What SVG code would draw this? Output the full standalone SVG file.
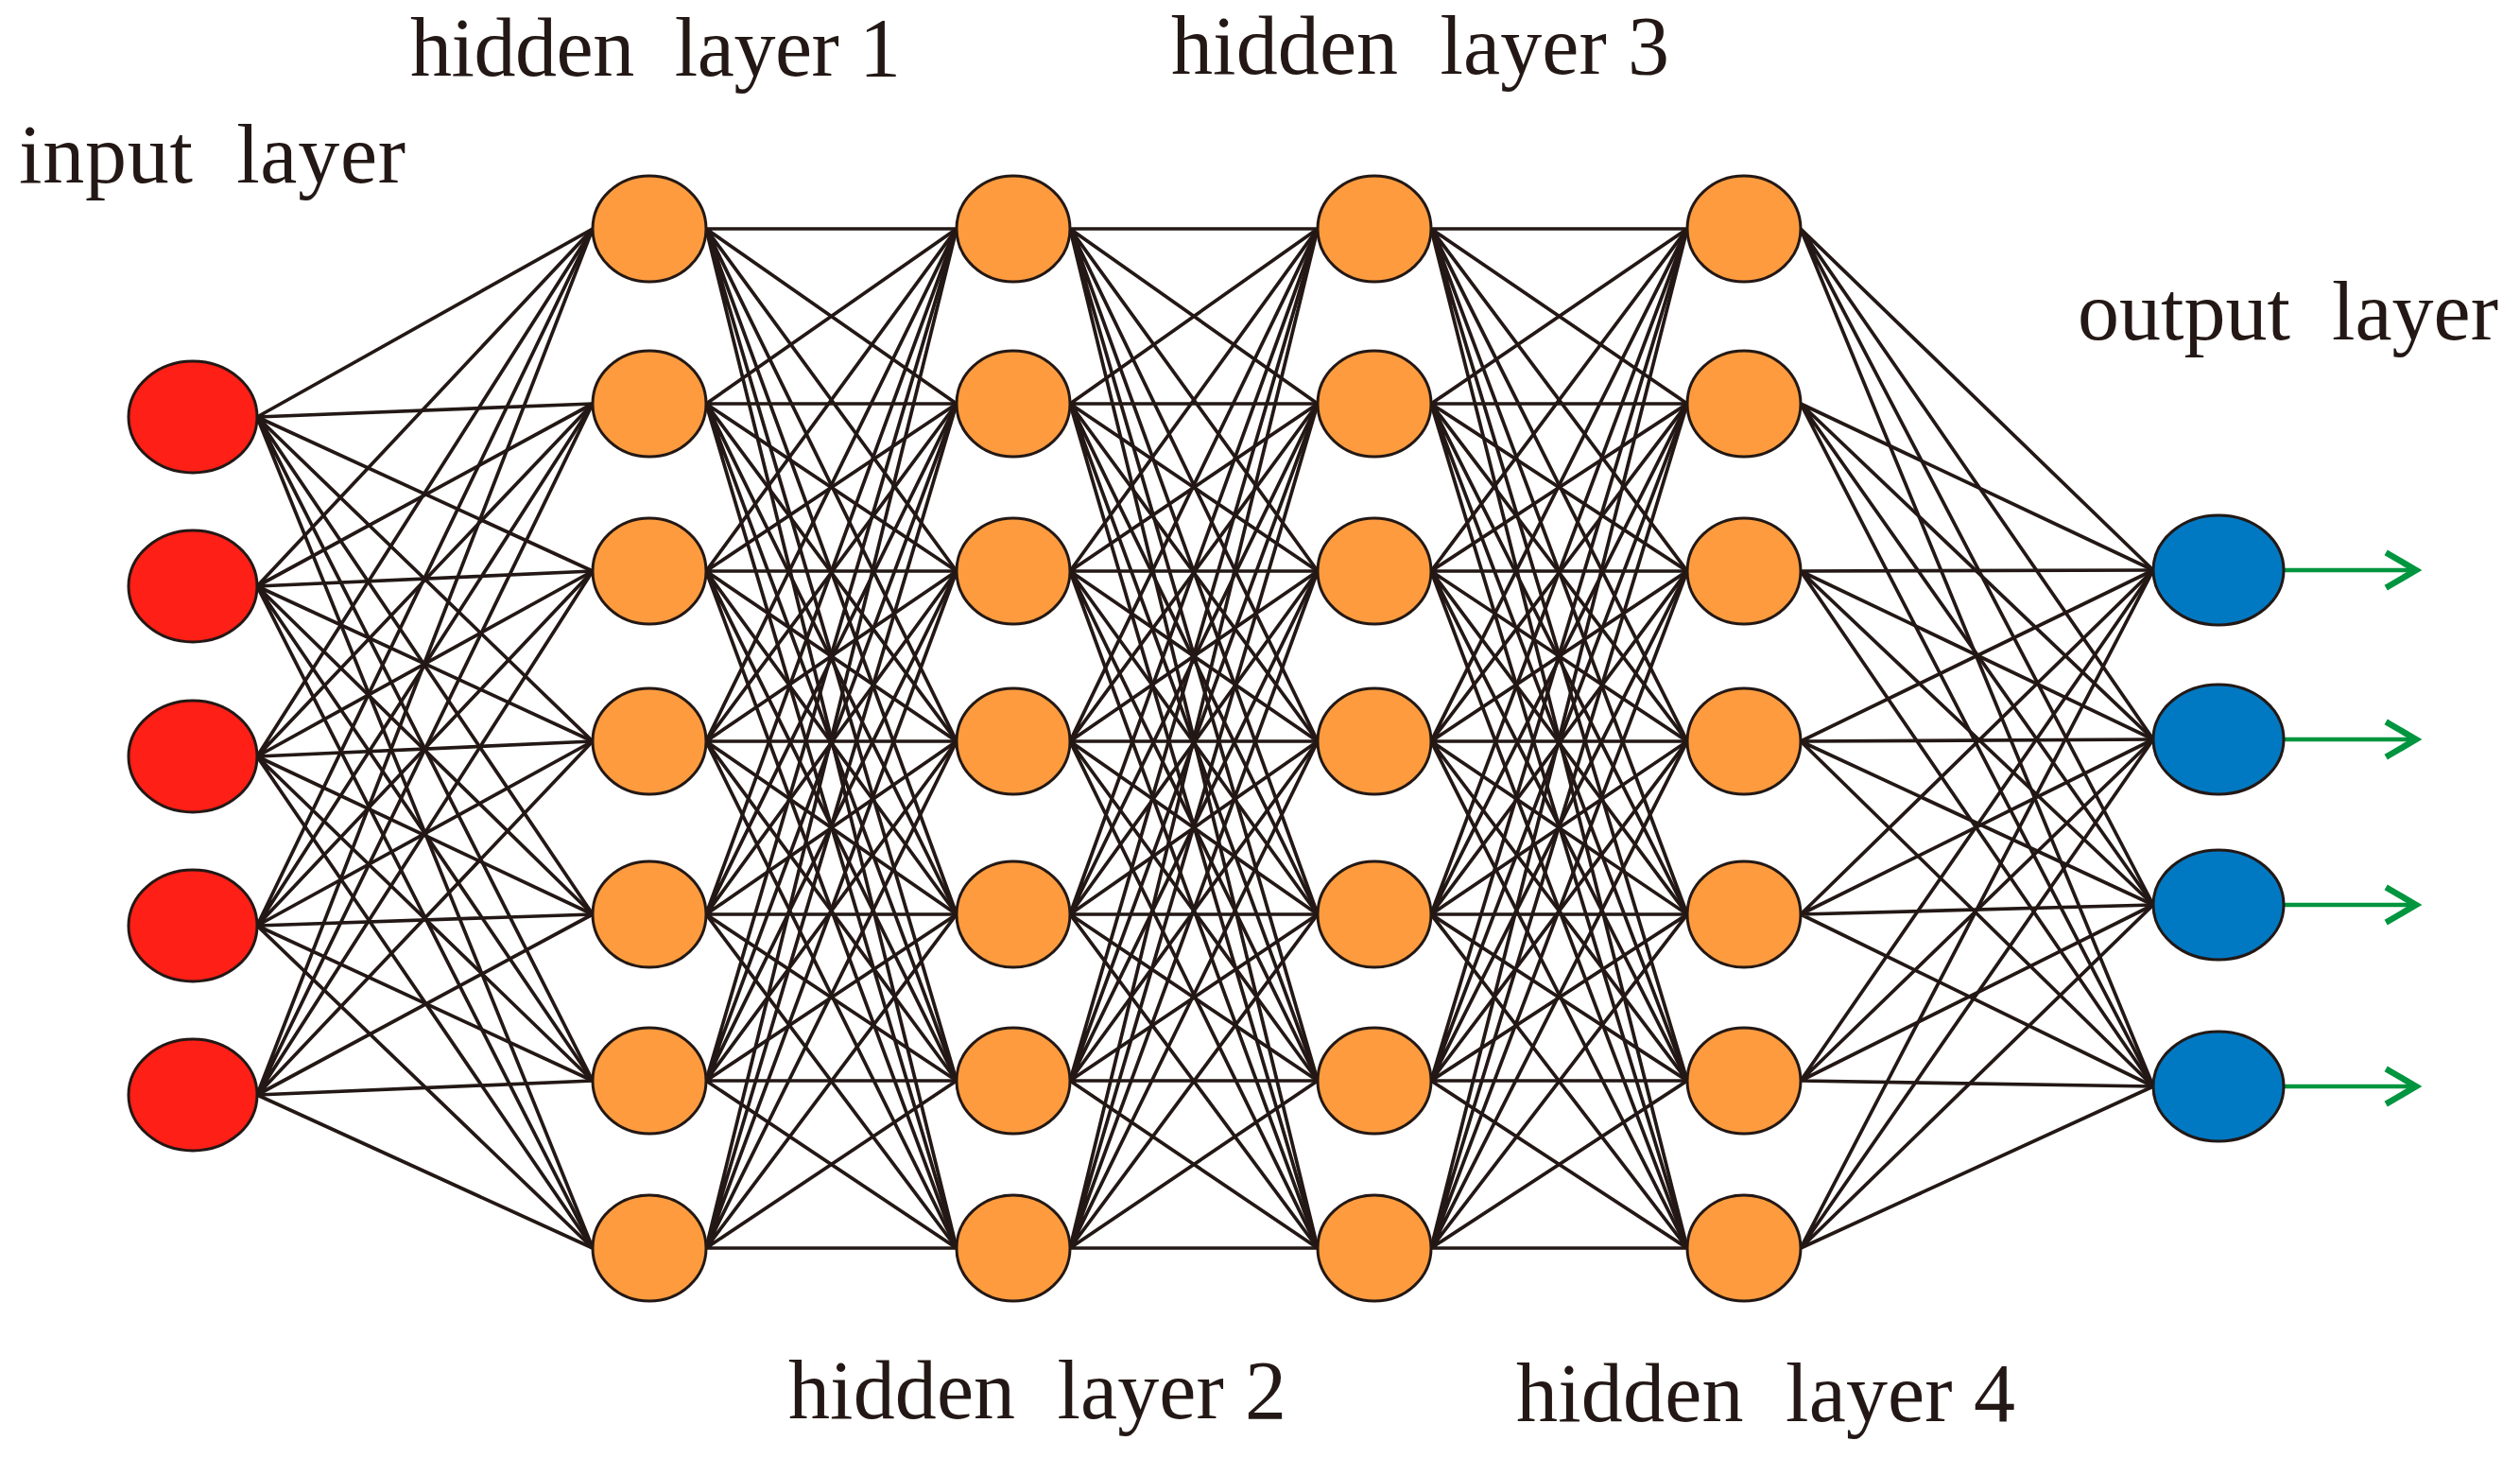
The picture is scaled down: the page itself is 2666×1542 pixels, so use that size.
<svg xmlns="http://www.w3.org/2000/svg" width="2666" height="1542" viewBox="0 0 2666 1542">
<style>
.lbl{font-family:"Liberation Serif","Times New Roman",serif;font-size:88px;fill:#231815;white-space:pre}
.c{stroke:#231815;stroke-width:3.7;fill:none}
.in{fill:#FE1F17;stroke:#231815;stroke-width:3}
.hid{fill:#FD9B3E;stroke:#231815;stroke-width:3}
.out{fill:#0079C2;stroke:#231815;stroke-width:3}
.arr{stroke:#00953F;stroke-width:4.5;fill:none}
.head{stroke:#00953F;stroke-width:6.5;fill:none;stroke-linecap:square}
</style>
<rect width="2666" height="1542" fill="#fff"/>
<g id="connectors">
<path class="c" d="M272 441L627 242M272 441L627 427M272 441L627 604M272 441L627 784M272 441L627 967M272 441L627 1143M272 441L627 1320"/>
<path class="c" d="M272 620L627 242M272 620L627 427M272 620L627 604M272 620L627 784M272 620L627 967M272 620L627 1143M272 620L627 1320"/>
<path class="c" d="M272 800L627 242M272 800L627 427M272 800L627 604M272 800L627 784M272 800L627 967M272 800L627 1143M272 800L627 1320"/>
<path class="c" d="M272 979L627 242M272 979L627 427M272 979L627 604M272 979L627 784M272 979L627 967M272 979L627 1143M272 979L627 1320"/>
<path class="c" d="M272 1158L627 242M272 1158L627 427M272 1158L627 604M272 1158L627 784M272 1158L627 967M272 1158L627 1143M272 1158L627 1320"/>

<path class="c" d="M747 242L1012 242M747 242L1012 427M747 242L1012 604M747 242L1012 784M747 242L1012 967M747 242L1012 1143M747 242L1012 1320"/>
<path class="c" d="M747 427L1012 242M747 427L1012 427M747 427L1012 604M747 427L1012 784M747 427L1012 967M747 427L1012 1143M747 427L1012 1320"/>
<path class="c" d="M747 604L1012 242M747 604L1012 427M747 604L1012 604M747 604L1012 784M747 604L1012 967M747 604L1012 1143M747 604L1012 1320"/>
<path class="c" d="M747 784L1012 242M747 784L1012 427M747 784L1012 604M747 784L1012 784M747 784L1012 967M747 784L1012 1143M747 784L1012 1320"/>
<path class="c" d="M747 967L1012 242M747 967L1012 427M747 967L1012 604M747 967L1012 784M747 967L1012 967M747 967L1012 1143M747 967L1012 1320"/>
<path class="c" d="M747 1143L1012 242M747 1143L1012 427M747 1143L1012 604M747 1143L1012 784M747 1143L1012 967M747 1143L1012 1143M747 1143L1012 1320"/>
<path class="c" d="M747 1320L1012 242M747 1320L1012 427M747 1320L1012 604M747 1320L1012 784M747 1320L1012 967M747 1320L1012 1143M747 1320L1012 1320"/>

<path class="c" d="M1132 242L1394 242M1132 242L1394 427M1132 242L1394 604M1132 242L1394 784M1132 242L1394 967M1132 242L1394 1143M1132 242L1394 1320"/>
<path class="c" d="M1132 427L1394 242M1132 427L1394 427M1132 427L1394 604M1132 427L1394 784M1132 427L1394 967M1132 427L1394 1143M1132 427L1394 1320"/>
<path class="c" d="M1132 604L1394 242M1132 604L1394 427M1132 604L1394 604M1132 604L1394 784M1132 604L1394 967M1132 604L1394 1143M1132 604L1394 1320"/>
<path class="c" d="M1132 784L1394 242M1132 784L1394 427M1132 784L1394 604M1132 784L1394 784M1132 784L1394 967M1132 784L1394 1143M1132 784L1394 1320"/>
<path class="c" d="M1132 967L1394 242M1132 967L1394 427M1132 967L1394 604M1132 967L1394 784M1132 967L1394 967M1132 967L1394 1143M1132 967L1394 1320"/>
<path class="c" d="M1132 1143L1394 242M1132 1143L1394 427M1132 1143L1394 604M1132 1143L1394 784M1132 1143L1394 967M1132 1143L1394 1143M1132 1143L1394 1320"/>
<path class="c" d="M1132 1320L1394 242M1132 1320L1394 427M1132 1320L1394 604M1132 1320L1394 784M1132 1320L1394 967M1132 1320L1394 1143M1132 1320L1394 1320"/>

<path class="c" d="M1514 242L1785 242M1514 242L1785 427M1514 242L1785 604M1514 242L1785 784M1514 242L1785 967M1514 242L1785 1143M1514 242L1785 1320"/>
<path class="c" d="M1514 427L1785 242M1514 427L1785 427M1514 427L1785 604M1514 427L1785 784M1514 427L1785 967M1514 427L1785 1143M1514 427L1785 1320"/>
<path class="c" d="M1514 604L1785 242M1514 604L1785 427M1514 604L1785 604M1514 604L1785 784M1514 604L1785 967M1514 604L1785 1143M1514 604L1785 1320"/>
<path class="c" d="M1514 784L1785 242M1514 784L1785 427M1514 784L1785 604M1514 784L1785 784M1514 784L1785 967M1514 784L1785 1143M1514 784L1785 1320"/>
<path class="c" d="M1514 967L1785 242M1514 967L1785 427M1514 967L1785 604M1514 967L1785 784M1514 967L1785 967M1514 967L1785 1143M1514 967L1785 1320"/>
<path class="c" d="M1514 1143L1785 242M1514 1143L1785 427M1514 1143L1785 604M1514 1143L1785 784M1514 1143L1785 967M1514 1143L1785 1143M1514 1143L1785 1320"/>
<path class="c" d="M1514 1320L1785 242M1514 1320L1785 427M1514 1320L1785 604M1514 1320L1785 784M1514 1320L1785 967M1514 1320L1785 1143M1514 1320L1785 1320"/>

<path class="c" d="M1905 242L2278 603M1905 242L2278 782M1905 242L2278 957M1905 242L2278 1149"/>
<path class="c" d="M1905 427L2278 603M1905 427L2278 782M1905 427L2278 957M1905 427L2278 1149"/>
<path class="c" d="M1905 604L2278 603M1905 604L2278 782M1905 604L2278 957M1905 604L2278 1149"/>
<path class="c" d="M1905 784L2278 603M1905 784L2278 782M1905 784L2278 957M1905 784L2278 1149"/>
<path class="c" d="M1905 967L2278 603M1905 967L2278 782M1905 967L2278 957M1905 967L2278 1149"/>
<path class="c" d="M1905 1143L2278 603M1905 1143L2278 782M1905 1143L2278 957M1905 1143L2278 1149"/>
<path class="c" d="M1905 1320L2278 603M1905 1320L2278 782M1905 1320L2278 957M1905 1320L2278 1149"/>

<path class="arr" d="M2416 603H2554M2416 782H2554M2416 957H2554M2416 1149H2554"/>
<path class="head" d="M2527 586L2556 603L2527 620M2527 765L2556 782L2527 799M2527 940L2556 957L2527 974M2527 1132L2556 1149L2527 1166"/>
</g>

<g id="in1"><ellipse class="in" cx="204" cy="441" rx="68" ry="59"/></g>
<g id="in2"><ellipse class="in" cx="204" cy="620" rx="68" ry="59"/></g>
<g id="in3"><ellipse class="in" cx="204" cy="800" rx="68" ry="59"/></g>
<g id="in4"><ellipse class="in" cx="204" cy="979" rx="68" ry="59"/></g>
<g id="in5"><ellipse class="in" cx="204" cy="1158" rx="68" ry="59"/></g>

<g id="h1n1"><ellipse class="hid" cx="687" cy="242" rx="60" ry="56"/></g>
<g id="h1n2"><ellipse class="hid" cx="687" cy="427" rx="60" ry="56"/></g>
<g id="h1n3"><ellipse class="hid" cx="687" cy="604" rx="60" ry="56"/></g>
<g id="h1n4"><ellipse class="hid" cx="687" cy="784" rx="60" ry="56"/></g>
<g id="h1n5"><ellipse class="hid" cx="687" cy="967" rx="60" ry="56"/></g>
<g id="h1n6"><ellipse class="hid" cx="687" cy="1143" rx="60" ry="56"/></g>
<g id="h1n7"><ellipse class="hid" cx="687" cy="1320" rx="60" ry="56"/></g>

<g id="h2n1"><ellipse class="hid" cx="1072" cy="242" rx="60" ry="56"/></g>
<g id="h2n2"><ellipse class="hid" cx="1072" cy="427" rx="60" ry="56"/></g>
<g id="h2n3"><ellipse class="hid" cx="1072" cy="604" rx="60" ry="56"/></g>
<g id="h2n4"><ellipse class="hid" cx="1072" cy="784" rx="60" ry="56"/></g>
<g id="h2n5"><ellipse class="hid" cx="1072" cy="967" rx="60" ry="56"/></g>
<g id="h2n6"><ellipse class="hid" cx="1072" cy="1143" rx="60" ry="56"/></g>
<g id="h2n7"><ellipse class="hid" cx="1072" cy="1320" rx="60" ry="56"/></g>

<g id="h3n1"><ellipse class="hid" cx="1454" cy="242" rx="60" ry="56"/></g>
<g id="h3n2"><ellipse class="hid" cx="1454" cy="427" rx="60" ry="56"/></g>
<g id="h3n3"><ellipse class="hid" cx="1454" cy="604" rx="60" ry="56"/></g>
<g id="h3n4"><ellipse class="hid" cx="1454" cy="784" rx="60" ry="56"/></g>
<g id="h3n5"><ellipse class="hid" cx="1454" cy="967" rx="60" ry="56"/></g>
<g id="h3n6"><ellipse class="hid" cx="1454" cy="1143" rx="60" ry="56"/></g>
<g id="h3n7"><ellipse class="hid" cx="1454" cy="1320" rx="60" ry="56"/></g>

<g id="h4n1"><ellipse class="hid" cx="1845" cy="242" rx="60" ry="56"/></g>
<g id="h4n2"><ellipse class="hid" cx="1845" cy="427" rx="60" ry="56"/></g>
<g id="h4n3"><ellipse class="hid" cx="1845" cy="604" rx="60" ry="56"/></g>
<g id="h4n4"><ellipse class="hid" cx="1845" cy="784" rx="60" ry="56"/></g>
<g id="h4n5"><ellipse class="hid" cx="1845" cy="967" rx="60" ry="56"/></g>
<g id="h4n6"><ellipse class="hid" cx="1845" cy="1143" rx="60" ry="56"/></g>
<g id="h4n7"><ellipse class="hid" cx="1845" cy="1320" rx="60" ry="56"/></g>

<g id="out1"><ellipse class="out" cx="2347" cy="603" rx="69" ry="58"/></g>
<g id="out2"><ellipse class="out" cx="2347" cy="782" rx="69" ry="58"/></g>
<g id="out3"><ellipse class="out" cx="2347" cy="957" rx="69" ry="58"/></g>
<g id="out4"><ellipse class="out" cx="2347" cy="1149" rx="69" ry="58"/></g>

<g id="labels">
<text class="lbl" xml:space="preserve" x="20" y="193" textLength="409">input  layer</text>
<text class="lbl" xml:space="preserve" x="434" y="80" textLength="519">hidden  layer 1</text>
<text class="lbl" xml:space="preserve" x="1239" y="78" textLength="527">hidden  layer 3</text>
<text class="lbl" xml:space="preserve" x="834" y="1500" textLength="527">hidden  layer 2</text>
<text class="lbl" xml:space="preserve" x="1604" y="1503" textLength="528">hidden  layer 4</text>
<text class="lbl" xml:space="preserve" x="2198" y="359" textLength="445">output  layer</text>
</g>
</svg>
